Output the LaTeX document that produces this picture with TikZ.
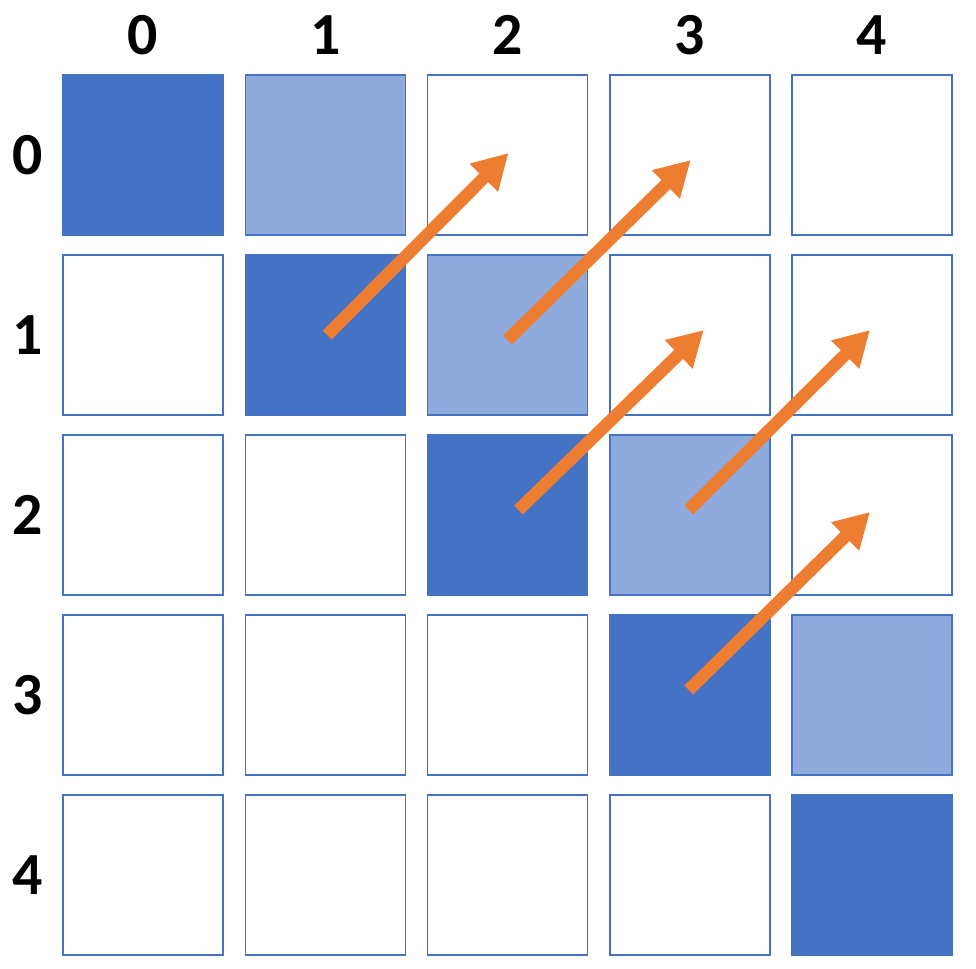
\documentclass[tikz,border=0pt]{standalone}
\usepackage{fontspec}
\setmainfont{Carlito}
\usetikzlibrary{arrows.meta}
\definecolor{cdark}{HTML}{4472C4}
\definecolor{clight}{HTML}{8FAADC}
\definecolor{carrow}{HTML}{ED7D31}
\tikzset{
  cell/.style = {draw = cdark, line width = 0.85pt, minimum size = 3.2cm, inner sep = 0pt},
  dark/.style = {cell, fill = cdark},
  light/.style = {cell, fill = clight},
  lbl/.style = {font = \fontsize{34}{34}\selectfont\bfseries, inner sep = 0pt},
  move/.style = {draw = carrow, line width = 0.25cm, -{Triangle[length = 0.7cm, width = 0.75cm]}}
}
\begin{document}
\begin{tikzpicture}
\useasboundingbox (0, 0) rectangle (19.52, -19.36);
\node[lbl] (top0) at (2.86, -0.7) {0};
\node[lbl] (top1) at (6.505, -0.7) {1};
\node[lbl] (top2) at (10.15, -0.7) {2};
\node[lbl] (top3) at (13.795, -0.7) {3};
\node[lbl] (top4) at (17.44, -0.7) {4};
\node[lbl] (left0) at (0.56, -3.1) {0};
\node[lbl] (left1) at (0.56, -6.7) {1};
\node[lbl] (left2) at (0.56, -10.3) {2};
\node[lbl] (left3) at (0.56, -13.9) {3};
\node[lbl] (left4) at (0.56, -17.5) {4};
\node[dark] (c00) at (2.86, -3.1) {};
\node[light] (c01) at (6.505, -3.1) {};
\node[cell] (c02) at (10.15, -3.1) {};
\node[cell] (c03) at (13.795, -3.1) {};
\node[cell] (c04) at (17.44, -3.1) {};
\node[cell] (c10) at (2.86, -6.7) {};
\node[dark] (c11) at (6.505, -6.7) {};
\node[light] (c12) at (10.15, -6.7) {};
\node[cell] (c13) at (13.795, -6.7) {};
\node[cell] (c14) at (17.44, -6.7) {};
\node[cell] (c20) at (2.86, -10.3) {};
\node[cell] (c21) at (6.505, -10.3) {};
\node[dark] (c22) at (10.15, -10.3) {};
\node[light] (c23) at (13.795, -10.3) {};
\node[cell] (c24) at (17.44, -10.3) {};
\node[cell] (c30) at (2.86, -13.9) {};
\node[cell] (c31) at (6.505, -13.9) {};
\node[cell] (c32) at (10.15, -13.9) {};
\node[dark] (c33) at (13.795, -13.9) {};
\node[light] (c34) at (17.44, -13.9) {};
\node[cell] (c40) at (2.86, -17.5) {};
\node[cell] (c41) at (6.505, -17.5) {};
\node[cell] (c42) at (10.15, -17.5) {};
\node[cell] (c43) at (13.795, -17.5) {};
\node[dark] (c44) at (17.44, -17.5) {};
% diagonal moves
\draw[move] ([shift = {(0.04, -0.0)}]c11.center) -- ([shift = {(0.02, 0.04)}]c02.center);
\draw[move] ([shift = {(0.0, -0.1)}]c12.center) -- ([shift = {(0.02, -0.1)}]c03.center);
\draw[move] ([shift = {(0.22, 0.1)}]c22.center) -- ([shift = {(0.28, 0.1)}]c13.center);
\draw[move] ([shift = {(-0.02, 0.1)}]c23.center) -- ([shift = {(-0.04, 0.1)}]c14.center);
\draw[move] ([shift = {(-0.02, 0.1)}]c33.center) -- ([shift = {(-0.04, 0.06)}]c24.center);
\end{tikzpicture}
\end{document}
